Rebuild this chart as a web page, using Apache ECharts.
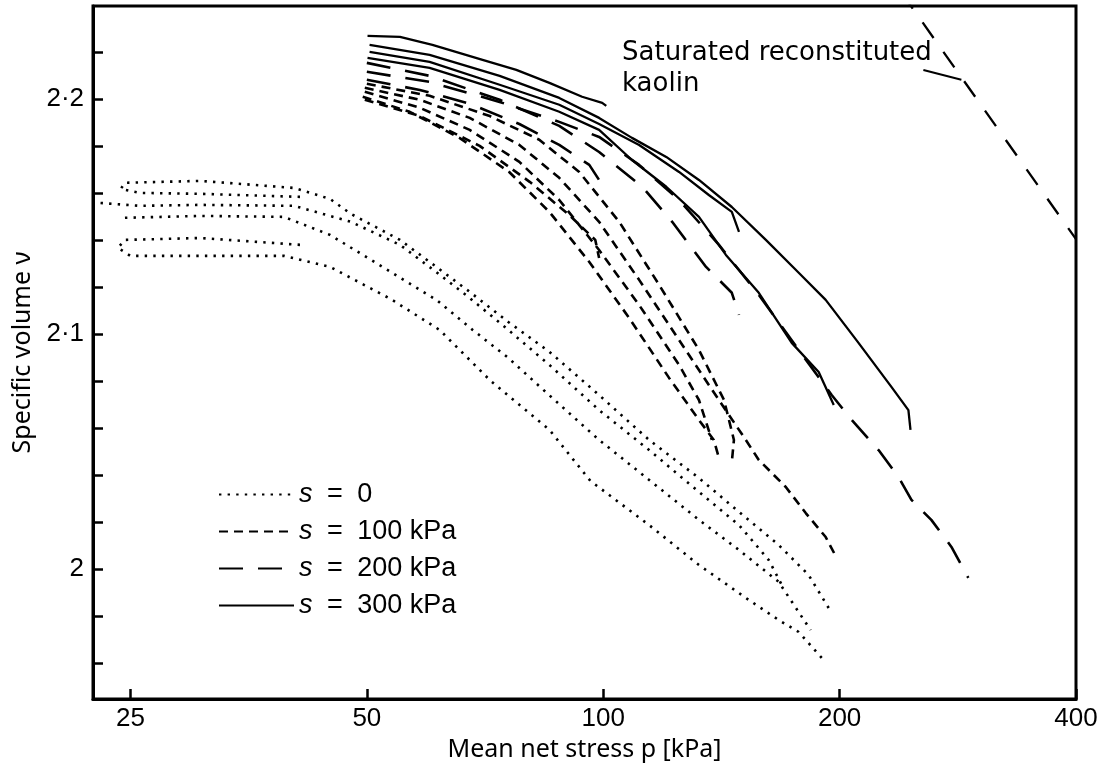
<!DOCTYPE html>
<html><head><meta charset="utf-8">
<script src="https://cdn.jsdelivr.net/npm/echarts@6/dist/echarts.min.js"></script>
<style>html,body{margin:0;padding:0;background:#fff}#c{width:1108px;height:772px}</style>
</head><body><div id="c"></div>
<script>
// ---------- axes ----------
const xTicks = [25, 50, 100, 200, 400];
const xRange = [22.4, 400];
const yRange = [1.9447, 2.2395];
const yLabelTicks = [2.0, 2.1, 2.2];
const yMinorTicks = [1.96, 1.98, 2.0, 2.02, 2.04, 2.06, 2.08, 2.1, 2.12, 2.14, 2.16, 2.18, 2.2, 2.22];
const groupNames = ['s = 0', 's = 100 kPa', 's = 200 kPa', 's = 300 kPa'];

// ---------- s = 0 (dotted) ----------
const s0_1_p = [41.1,30.7,25.7,24.3,24.6,30.7,40.4,44.9,47.7,55.1,60.8,67.6,75.7,85.4,98.8,114.4,132.4,148.9,167.3,182.6,193.7];
const s0_1_v = [2.1583,2.1596,2.1600,2.1617,2.1643,2.1651,2.1621,2.1574,2.1511,2.1400,2.1294,2.1179,2.1051,2.0924,2.0740,2.0549,2.0387,2.0243,2.0102,1.9975,1.9834];
const s0_2_p = [22.9,25.7,30.7,40.4,47.7,55.1,60.8,67.6,75.7,85.4,98.8,114.4,132.4,148.9,162.5,168.8];
const s0_2_v = [2.1557,2.1545,2.1549,2.1545,2.1477,2.1379,2.1272,2.1153,2.1017,2.0868,2.0676,2.0506,2.0328,2.0187,2.0038,1.9932];
const s0_3_p = [24.6,30.7,39.2,44.9,53.6,61.3,68.2,75.7,83.9,98.8,114.4,132.4,148.9,167.3,183.7];
const s0_3_v = [2.1494,2.1502,2.1498,2.1421,2.1264,2.1145,2.1017,2.0898,2.0762,2.0549,2.0379,2.0209,2.0081,1.9945,1.9740];
const s0_4_p = [41.1,30.7,24.6,24.1,25.0,30.7,39.2,44.9,53.6,61.9,71.9,85.4,96.3,114.4,132.4,153.3,167.3,177.4,190.8];
const s0_4_v = [2.1379,2.1408,2.1400,2.1366,2.1332,2.1332,2.1332,2.1285,2.1149,2.1017,2.0800,2.0592,2.0375,2.0187,2.0017,1.9868,1.9783,1.9732,1.9613];

// ---------- s = 100 kPa (dashed) ----------
const s100_1_p = [49.7,58.4,67.6,78.2,87.9,98.8,111.1,124.9,136.3,144.6,151.9,157.8,170.8,181.1,192.0,198.3];
const s100_1_v = [2.2047,2.1996,2.1919,2.1804,2.1664,2.1477,2.1230,2.0974,2.0783,2.0655,2.0549,2.0464,2.0349,2.0238,2.0136,2.0047];
const s100_2_p = [49.7,58.4,67.6,78.2,87.9,98.8,111.1,124.9,132.4,137.5];
const s100_2_v = [2.2030,2.1962,2.1868,2.1732,2.1570,2.1357,2.1123,2.0868,2.0719,2.0549];
const s100_3_p = [49.4,56.7,65.6,75.9,85.4,96.0,107.9,121.3,132.4,138.3,140.4];
const s100_3_v = [2.2009,2.1945,2.1834,2.1689,2.1519,2.1306,2.1068,2.0813,2.0634,2.0549,2.0472];
const s100_4_p = [49.7,58.4,69.6,80.6,90.5,97.7,98.8];
const s100_4_v = [2.1996,2.1927,2.1800,2.1647,2.1506,2.1400,2.1323];
const s100_5_p = [50.0,60.1,71.7,82.9,93.2,104.8,117.8,132.4,142.5,146.7,145.8];
const s100_5_v = [2.2064,2.2013,2.1927,2.1826,2.1689,2.1477,2.1209,2.0932,2.0719,2.0549,2.0455];

// ---------- s = 200 kPa (long dash) ----------
const s200_1_p = [50.0,60.1,73.8,87.9,98.8,112.1,122.4,135.2,145.8,148.9];
const s200_1_v = [2.2153,2.2098,2.1996,2.1885,2.1774,2.1626,2.1477,2.1285,2.1175,2.1081];
const s200_2_p = [50.0,60.1,73.8,87.9,98.8,111.1,124.9,140.4,157.8,177.4,195.4,207.2,224.2,237.7,246.9,261.7,277.6,291.7];
const s200_2_v = [2.2115,2.2072,2.1987,2.1902,2.1838,2.1719,2.1570,2.1379,2.1166,2.0932,2.0740,2.0634,2.0506,2.0391,2.0294,2.0209,2.0094,1.9962];
const s200_3_p = [50.0,58.4,67.6,78.2,87.9,96.0,98.8];
const s200_3_v = [2.2081,2.2038,2.1979,2.1893,2.1804,2.1719,2.1655];

// ---------- s = 300 kPa (solid) ----------
const s300_1_p = [50.1,55.1,60.6,70.2,77.5,85.4,94.0,99.7,100.9];
const s300_1_v = [2.2268,2.2264,2.2230,2.2166,2.2123,2.2068,2.2009,2.1983,2.1970];
const s300_2_p = [50.4,60.1,73.8,87.9,98.8,108.8,120.3,132.4,145.8,161.1,177.4,192.0,211.4,232.8,244.7,246.2];
const s300_2_v = [2.2230,2.2187,2.2098,2.2004,2.1919,2.1834,2.1753,2.1655,2.1540,2.1400,2.1260,2.1145,2.0962,2.0775,2.0676,2.0592];
const s300_3_p = [50.4,60.1,73.8,87.9,98.8,111.1,124.9,136.3,145.8,148.9];
const s300_3_v = [2.2200,2.2157,2.2060,2.1975,2.1893,2.1804,2.1689,2.1591,2.1519,2.1434];
const s300_4_p = [50.1,60.1,73.8,87.9,98.8,108.8,120.3,132.4,143.3,157.8,173.8,188.1,196.6];
const s300_4_v = [2.2174,2.2132,2.2038,2.1945,2.1868,2.1740,2.1626,2.1498,2.1336,2.1175,2.0962,2.0838,2.0698];

// ---------- saturated reconstituted kaolin ----------
const sat_p = [240, 400];
const sat_v = [2.2450, 2.1403];
const leader_p = [255.7, 285.8];
const leader_v = [2.2123, 2.2081];
const annotationText = 'Saturated reconstituted\nkaolin';

// ---------- build ----------
const lx = p => Math.log2(p);
const FONT = 'Liberation Sans, Arial, sans-serif';
const TFONT = 'Noto Sans, sans-serif';
const styles = {
  's = 0': { width: 2.6, type: [2.4, 6.2] },
  's = 100 kPa': { width: 2.6, type: [9, 6] },
  's = 200 kPa': { width: 2.6, type: [24, 15] },
  's = 300 kPa': { width: 2.3, type: 'solid' }
};
function curve(name, p, v) {
  return {
    type: 'line', name, data: p.map((x, i) => [lx(x), v[i]]),
    symbol: 'none', showSymbol: false, silent: true, animation: false,
    lineStyle: Object.assign({ color: '#000' }, styles[name]),
    itemStyle: { color: '#000' }
  };
}
const series = [
  curve('s = 0', s0_1_p, s0_1_v), curve('s = 0', s0_2_p, s0_2_v),
  curve('s = 0', s0_3_p, s0_3_v), curve('s = 0', s0_4_p, s0_4_v),
  curve('s = 100 kPa', s100_1_p, s100_1_v), curve('s = 100 kPa', s100_2_p, s100_2_v),
  curve('s = 100 kPa', s100_3_p, s100_3_v), curve('s = 100 kPa', s100_4_p, s100_4_v),
  curve('s = 100 kPa', s100_5_p, s100_5_v),
  curve('s = 200 kPa', s200_1_p, s200_1_v), curve('s = 200 kPa', s200_2_p, s200_2_v),
  curve('s = 200 kPa', s200_3_p, s200_3_v),
  curve('s = 300 kPa', s300_1_p, s300_1_v), curve('s = 300 kPa', s300_2_p, s300_2_v),
  curve('s = 300 kPa', s300_3_p, s300_3_v), curve('s = 300 kPa', s300_4_p, s300_4_v),
  {
    type: 'line', name: 'saturated', data: sat_p.map((x, i) => [lx(x), sat_v[i]]),
    symbol: 'none', silent: true, animation: false,
    lineStyle: { color: '#000', width: 2.3, type: [19, 17] },
    markLine: {
      silent: true, symbol: ['none', 'none'], animation: false,
      lineStyle: { color: '#000', width: 2, type: 'solid' }, label: { show: false },
      data: [[{ coord: [lx(leader_p[0]), leader_v[0]] }, { coord: [lx(leader_p[1]), leader_v[1]] }]]
    }
  }
];

const chart = echarts.init(document.getElementById('c'), null, { renderer: 'canvas' });
chart.setOption({
  animation: false,
  backgroundColor: '#fff',
  grid: { left: 93, right: 32, top: 6, bottom: 73, show: true, borderColor: '#000', borderWidth: 3 },
  xAxis: {
    type: 'value', min: lx(xRange[0]), max: lx(xRange[1]),
    axisLine: { show: true, onZero: false, lineStyle: { color: '#000', width: 3 } },
    splitLine: { show: false },
    axisTick: { show: true, inside: true, length: 10, customValues: xTicks.map(lx), lineStyle: { color: '#000', width: 2.5 } },
    axisLabel: { customValues: xTicks.map(lx), formatter: v => String(Math.round(Math.pow(2, v))), fontSize: 26, color: '#000', margin: 7, fontFamily: FONT },
    name: 'Mean net stress p [kPa]', nameLocation: 'middle', nameGap: 35,
    nameTextStyle: { fontSize: 25, color: '#000', fontFamily: TFONT }
  },
  yAxis: {
    type: 'value', min: yRange[0], max: yRange[1],
    axisLine: { show: true, onZero: false, lineStyle: { color: '#000', width: 3 } },
    splitLine: { show: false },
    axisTick: { show: true, inside: true, length: 10, customValues: yMinorTicks, lineStyle: { color: '#000', width: 2.5 } },
    axisLabel: { customValues: yLabelTicks, formatter: v => (Math.abs(v - 2) < 1e-9 ? '2' : v.toFixed(1).replace('.', '·')), fontSize: 26, color: '#000', margin: 9, fontFamily: FONT },
    name: 'Specific volume ν', nameLocation: 'middle', nameGap: 57,
    nameTextStyle: { fontSize: 25, color: '#000', fontFamily: TFONT }
  },
  legend: {
    data: groupNames, orient: 'vertical', left: 213, top: 476,
    itemWidth: 75, itemHeight: 14, itemGap: 10, selectedMode: false,
    itemStyle: { opacity: 0 },
    formatter: n => { const parts = n.split(' = '); return '{i|s} {eq|=} ' + parts[1]; },
    textStyle: { fontSize: 27, color: '#000', fontFamily: FONT,
      rich: {
        i: { fontStyle: 'italic', fontSize: 27, color: '#000', fontFamily: FONT },
        eq: { fontSize: 27, color: '#000', fontFamily: FONT, padding: [0, 7] }
      } }
  },
  graphic: [{
    type: 'text', left: 622, top: 38, silent: true,
    style: { text: annotationText, font: '26px "DejaVu Sans", sans-serif', fill: '#000', lineHeight: 31 }
  }],
  series
});
</script></body></html>
